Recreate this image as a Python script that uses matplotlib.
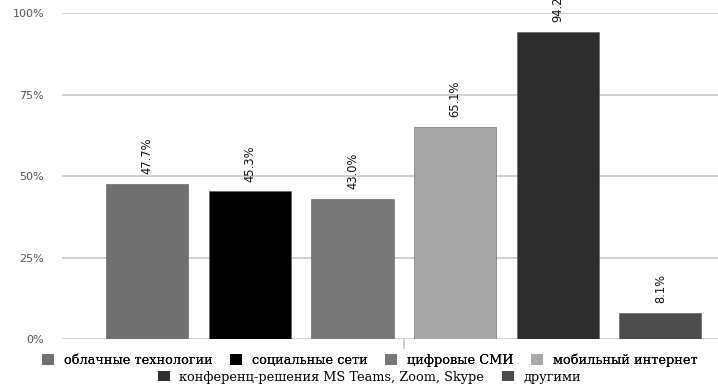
import matplotlib
matplotlib.use("Agg")
import matplotlib.pyplot as plt
from matplotlib.patches import Patch

categories = [
    "облачные технологии",
    "социальные сети",
    "цифровые СМИ",
    "мобильный интернет",
    "конференц-решения MS Teams, Zoom, Skype",
    "другими",
]
values = [47.7, 45.3, 43.0, 65.1, 94.2, 8.1]
colors = ["#707070", "#000000", "#787878", "#a9a9a9", "#2d2d2d", "#4d4d4d"]
y_ticks = [0, 25, 50, 75, 100]
y_tick_labels = ["0%", "25%", "50%", "75%", "100%"]

fig = plt.figure(figsize=(7.18, 3.85), dpi=100)
ax = fig.add_axes([0.0864, 0.1195, 0.952, 0.8465])

x = list(range(len(values)))
bars = ax.bar(x, values, width=0.8, color=colors, edgecolor="#5a5a5a",
              linewidth=0.4, zorder=3)

for xi, v in zip(x, values):
    ax.annotate(f"{v:.1f}%", xy=(xi, v), xytext=(0, 7),
                textcoords="offset points", rotation=90,
                ha="center", va="bottom", fontsize=8.3,
                family="DejaVu Sans", color="#111111", zorder=4)

ax.set_xlim(-0.83, 5.83)
ax.set_ylim(0, 100)
ax.set_yticks(y_ticks)
ax.set_yticklabels(y_tick_labels, family="DejaVu Sans", fontsize=8,
                   color="#555555")
ax.tick_params(axis="y", length=0, pad=13)
ax.set_xticks([2.5])
ax.set_xticklabels([""])
ax.tick_params(axis="x", length=7, width=1.2, color="#c8c8c8")
ax.grid(axis="y", color="#c8c8c8", linewidth=1.2, zorder=0)
for s in ax.spines.values():
    s.set_visible(False)

handles = [Patch(facecolor=c, edgecolor="none") for c in colors]
common = dict(frameon=False, handlelength=0.9, handleheight=0.9,
              handletextpad=0.75, columnspacing=1.4, borderpad=0,
              borderaxespad=0,
              prop={"family": "DejaVu Serif", "size": 9.3})
leg1 = fig.legend(handles[:4], categories[:4], ncol=4, loc="center",
                  bbox_to_anchor=(0.515, 1 - 360 / 385), **common)
fig.add_artist(leg1)
fig.legend(handles[4:], categories[4:], ncol=2, loc="center",
           bbox_to_anchor=(0.515, 1 - 377 / 385), **common)

fig.savefig("out.png", dpi=100)
